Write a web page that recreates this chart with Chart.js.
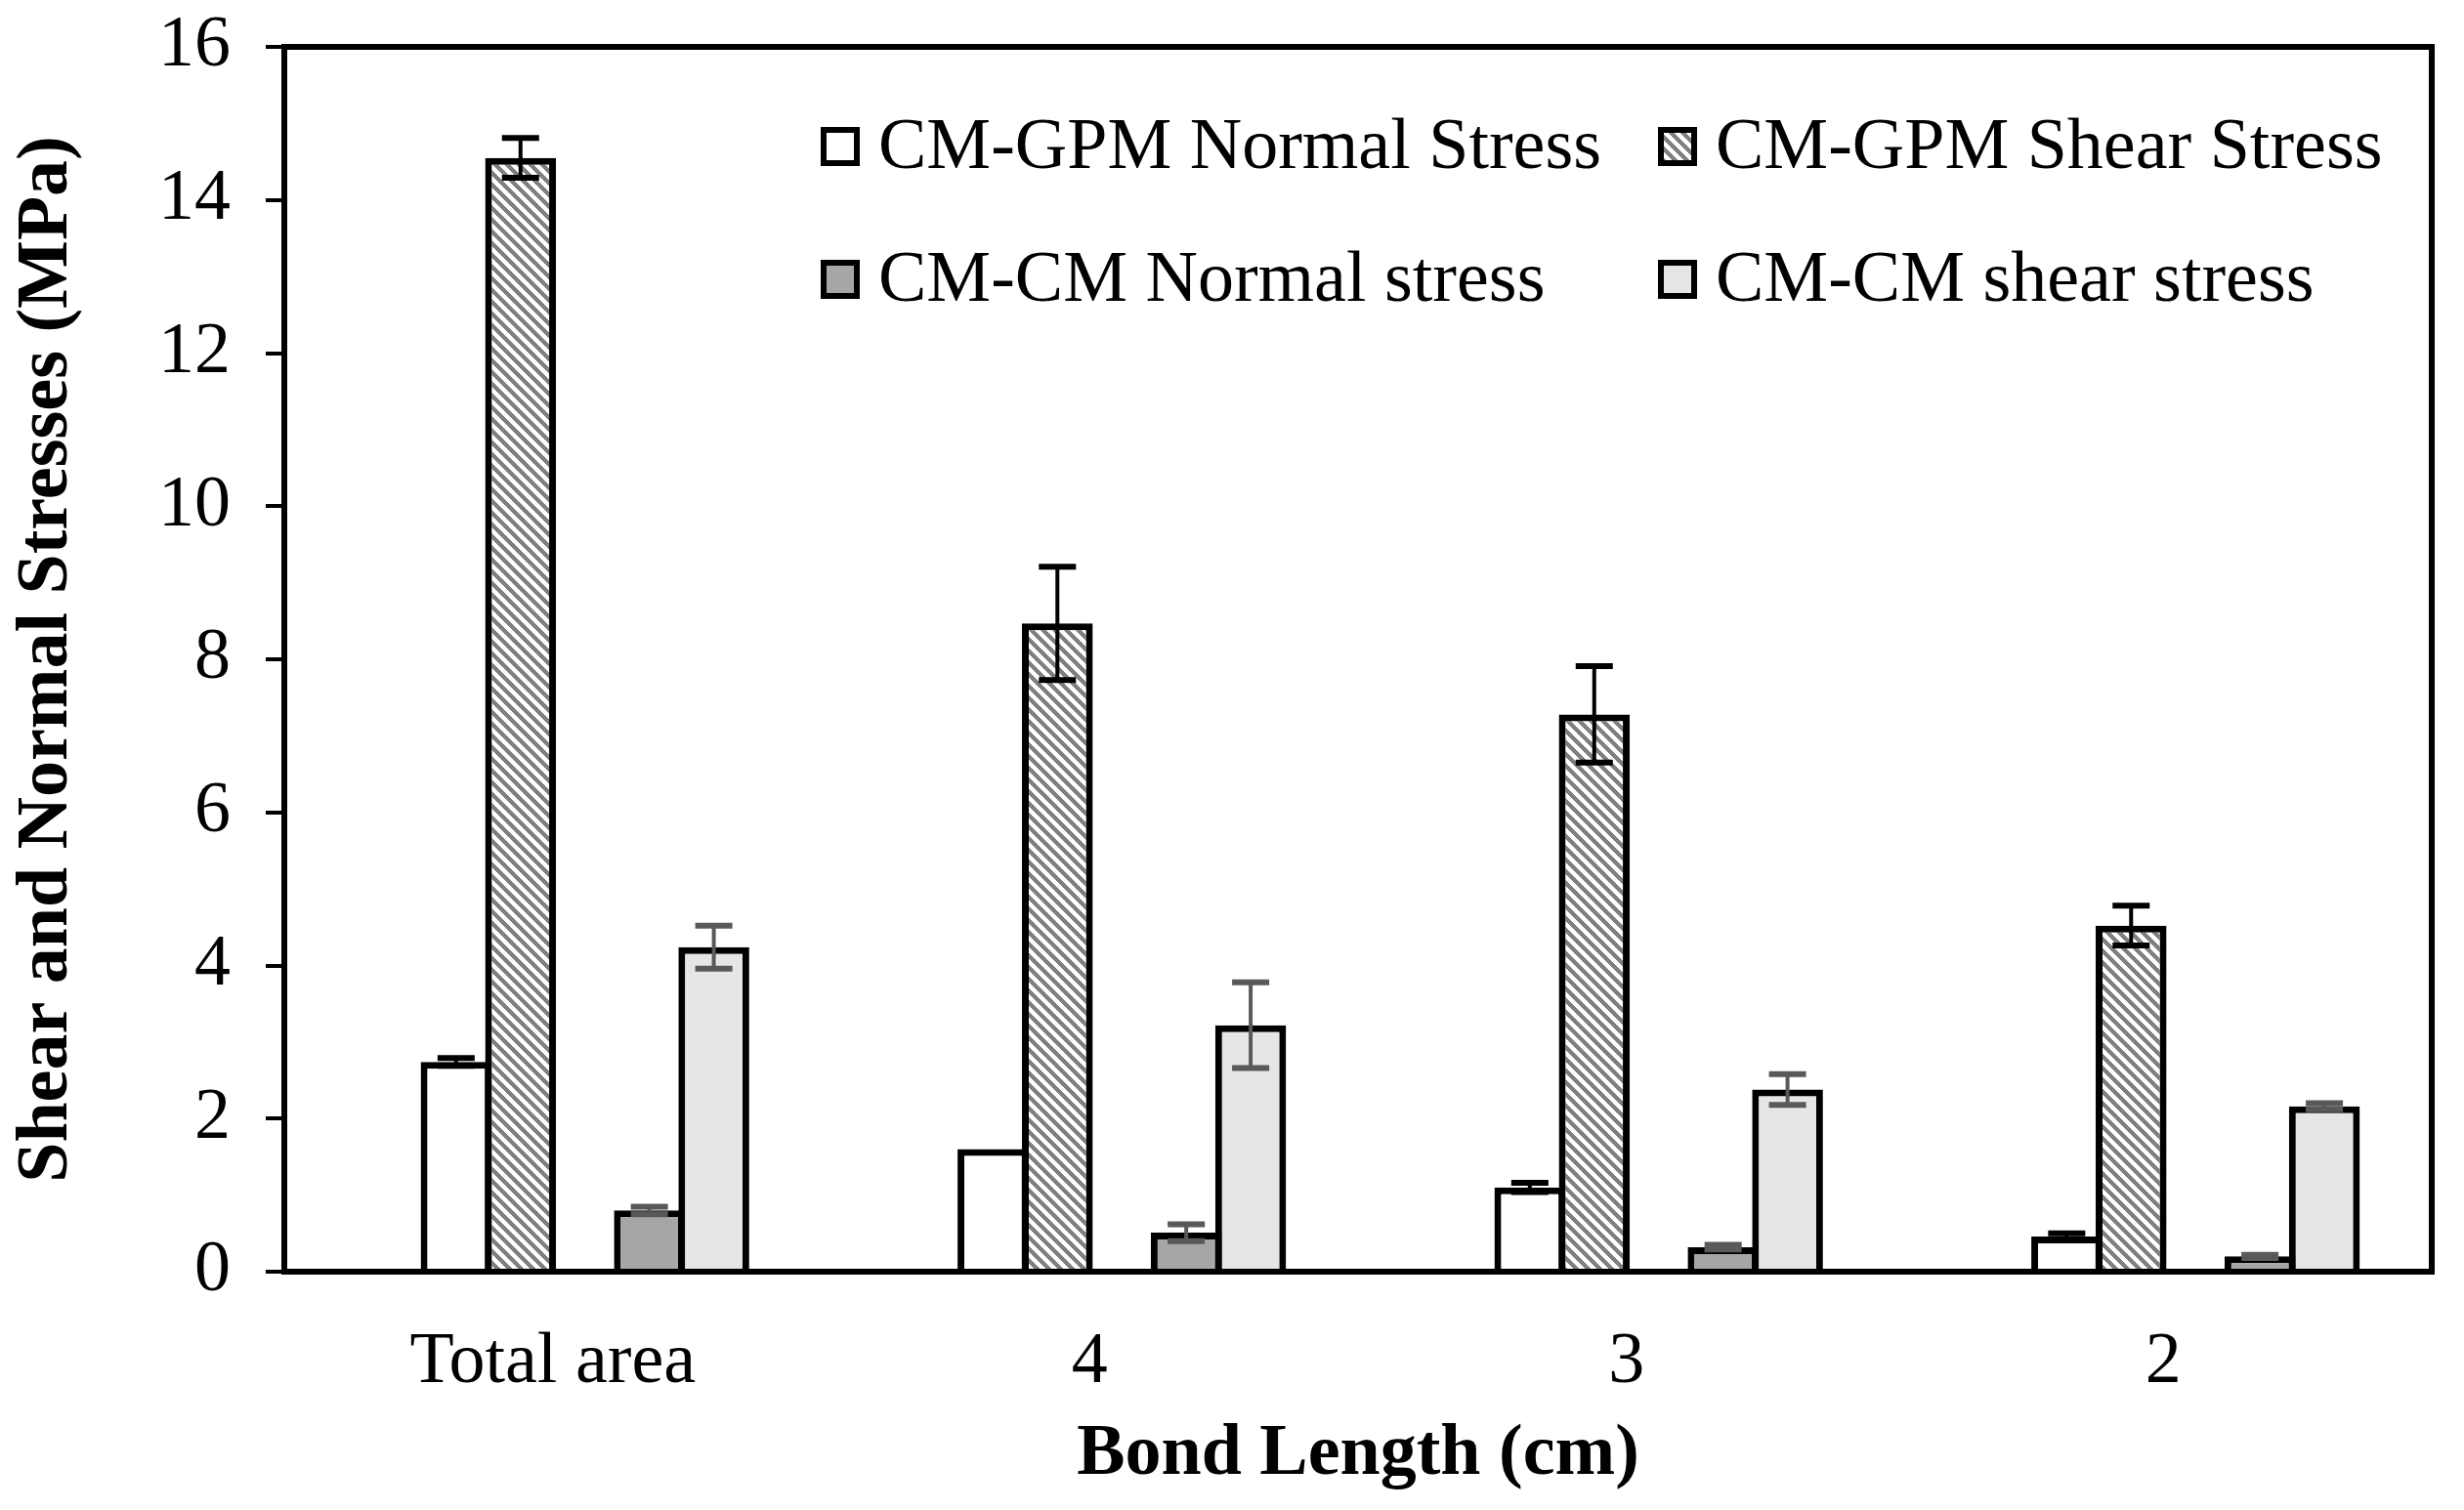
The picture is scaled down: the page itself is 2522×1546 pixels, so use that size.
<!DOCTYPE html>
<html lang="en">
  <head>
    <meta charset="UTF-8" />
    <script src="https://cdn.jsdelivr.net/npm/chart.js"></script>
    <title>Bond stresses</title>
    <style>
      html, body { margin: 0; padding: 0; background: #fff; }
    </style>
  </head>
  <body>
    <div style="width: 2522px; height: 1546px;">
      <canvas id="myChart" width="2522" height="1546"></canvas>
    </div>
    <script>
      // data
      var categorias = ["Total area", "4", "3", "2"];
      var gpmNormal = [2.74, 1.6, 1.1, 0.46];
      var gpmNormalErr = [0.05, 0, 0.06, 0.04];
      var gpmShear = [14.55, 8.47, 7.28, 4.52];
      var gpmShearErr = [0.26, 0.74, 0.63, 0.26];
      var cmNormal = [0.8, 0.51, 0.32, 0.2];
      var cmNormalErr = [0.05, 0.11, 0.03, 0.02];
      var cmShear = [4.24, 3.22, 2.38, 2.16];
      var cmShearErr = [0.28, 0.56, 0.2, 0.04];
      var yTicks = { min: 0, max: 16, step: 2 };

      var fuente = "'Liberation Serif', 'Times New Roman', serif";

      // diagonal "\" hatch for the GPM shear bars, drawn pixel by pixel
      function hatch() {
        var n = 12;
        var c = document.createElement("canvas");
        c.width = n;
        c.height = n;
        var g = c.getContext("2d");
        g.fillStyle = "#ffffff";
        g.fillRect(0, 0, n, n);
        g.fillStyle = "#808080";
        for (var px = 0; px < n; px++) {
          for (var py = 0; py < n; py++) {
            if ((((px - py) % n) + n) % n < 6) g.fillRect(px, py, 1, 1);
          }
        }
        return g.createPattern(c, "repeat");
      }
      var rayado = hatch();

      var errorBars = {
        id: "errorBars",
        afterDatasetsDraw: function (chart) {
          var ctx = chart.ctx;
          var y = chart.scales.y;
          chart.data.datasets.forEach(function (ds, i) {
            if (!ds.err) return;
            var meta = chart.getDatasetMeta(i);
            ctx.save();
            ctx.strokeStyle = ds.errColor;
            meta.data.forEach(function (bar, j) {
              var e = ds.err[j];
              if (!e) return;
              var top = y.getPixelForValue(ds.data[j] + e);
              var bot = y.getPixelForValue(ds.data[j] - e);
              ctx.lineWidth = 4;
              ctx.beginPath();
              ctx.moveTo(bar.x, top);
              ctx.lineTo(bar.x, bot);
              ctx.stroke();
              ctx.lineWidth = 6;
              ctx.beginPath();
              ctx.moveTo(bar.x - 19, top);
              ctx.lineTo(bar.x + 19, top);
              ctx.moveTo(bar.x - 19, bot);
              ctx.lineTo(bar.x + 19, bot);
              ctx.stroke();
            });
            ctx.restore();
          });
        },
      };

      var marco = {
        id: "marco",
        afterDraw: function (chart) {
          var a = chart.chartArea;
          var ctx = chart.ctx;
          ctx.save();
          ctx.strokeStyle = "#000";
          ctx.lineWidth = 6;
          ctx.strokeRect(a.left, a.top, a.right - a.left, a.bottom - a.top);
          ctx.restore();
        },
      };

      var leyenda = {
        id: "leyenda",
        afterDraw: function (chart) {
          var ctx = chart.ctx;
          var a = chart.chartArea;
          var cols = [a.left + 552, a.left + 1409];
          var rows = [a.top + 102, a.top + 238];
          var k = 0;
          ctx.save();
          ctx.font = "74px " + fuente;
          ctx.textBaseline = "middle";
          chart.data.datasets.forEach(function (ds) {
            if (!ds.label) return;
            var x = cols[k % 2];
            var yy = rows[Math.floor(k / 2)];
            ctx.fillStyle = ds.backgroundColor;
            ctx.fillRect(x, yy - 17, 34, 34);
            ctx.strokeStyle = "#000";
            ctx.lineWidth = 6;
            ctx.strokeRect(x, yy - 17, 34, 34);
            ctx.fillStyle = "#000";
            ctx.fillText(ds.label, x + 56, yy + 3);
            k++;
          });
          ctx.restore();
        },
      };

      function serie(label, data, err, fondo, errColor) {
        return {
          label: label,
          data: data,
          err: err,
          errColor: errColor,
          backgroundColor: fondo,
          borderColor: "#000000",
          borderWidth: 7,
          borderSkipped: "bottom",
          categoryPercentage: 0.72,
          barPercentage: 1.1,
        };
      }
      // empty slots keep the gaps Excel leaves in each group
      function hueco() {
        return { label: "", data: [null, null, null, null], categoryPercentage: 0.72, barPercentage: 1.1 };
      }

      var ctx = document.getElementById("myChart");
      var myChart = new Chart(ctx, {
        type: "bar",
        data: {
          labels: categorias,
          datasets: [
            hueco(),
            serie("CM-GPM Normal Stress", gpmNormal, gpmNormalErr, "#ffffff", "#000000"),
            serie("CM-GPM Shear Stress", gpmShear, gpmShearErr, rayado, "#000000"),
            hueco(),
            serie("CM-CM Normal stress", cmNormal, cmNormalErr, "#a6a6a6", "#595959"),
            serie("CM-CM shear stress", cmShear, cmShearErr, "#e6e6e6", "#595959"),
          ],
        },
        options: {
          responsive: false,
          animation: false,
          layout: { padding: { top: 48, right: 33, left: 0, bottom: 0 } },
          plugins: {
            legend: { display: false },
            tooltip: { enabled: false },
          },
          scales: {
            x: {
              grid: { display: false, drawTicks: false },
              border: { color: "#000", width: 6 },
              ticks: { color: "#000", padding: 49, font: { family: fuente, size: 74 } },
              title: {
                display: true,
                text: "Bond Length (cm)",
                color: "#000",
                padding: { top: 0, bottom: 12 },
                font: { family: fuente, size: 74, weight: "bold", lineHeight: 1.2 },
              },
              afterFit: function (s) { s.height = 244; s.paddingLeft = 0; s.paddingRight = 0; },
            },
            y: {
              min: yTicks.min,
              max: yTicks.max,
              grid: { drawOnChartArea: false, drawTicks: true, tickLength: 19, color: "#000", lineWidth: 4 },
              border: { color: "#000", width: 6 },
              ticks: { stepSize: yTicks.step, color: "#000", padding: 36, font: { family: fuente, size: 74 } },
              title: {
                display: true,
                text: "Shear and Normal Stresses (MPa)",
                color: "#000",
                padding: { top: 4, bottom: 0 },
                font: { family: fuente, size: 74, weight: "bold", lineHeight: 1.2 },
              },
              afterFit: function (s) { s.width = 291; s.paddingTop = 0; s.paddingBottom = 0; },
            },
          },
        },
        plugins: [errorBars, marco, leyenda],
      });
    </script>
  </body>
</html>
